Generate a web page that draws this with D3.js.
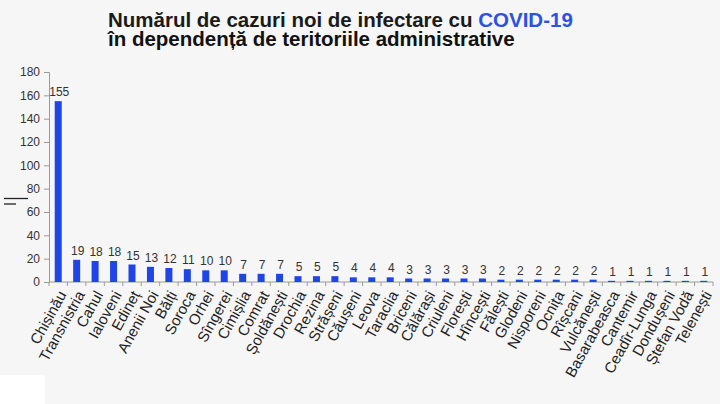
<!DOCTYPE html>
<html><head><meta charset="utf-8">
<script src="https://cdn.jsdelivr.net/npm/d3@7"></script>
<style>body{margin:0;background:#f6f6f6;} svg{display:block;}</style>
</head><body>
<script>
const categories = ["Chișinău","Transnistria","Cahul","Ialoveni","Edineț","Anenii Noi","Bălți","Soroca","Orhei","Sîngerei","Cimișlia","Comrat","Șoldănești","Drochia","Rezina","Strășeni","Căușeni","Leova","Taraclia","Briceni","Călărași","Criuleni","Florești","Hîncești","Fălești","Glodeni","Nisporeni","Ocnița","Rîșcani","Vulcănești","Basarabeasca","Cantemir","Ceadîr-Lunga","Dondușeni","Ștefan Vodă","Telenești"];
const values = [155,19,18,18,15,13,12,11,10,10,7,7,7,5,5,5,4,4,4,3,3,3,3,3,2,2,2,2,2,2,1,1,1,1,1,1];
const yTicks = [0,20,40,60,80,100,120,140,160,180];
const titleLine1 = "Numărul de cazuri noi de infectare cu ";
const titleHighlight = "COVID-19";
const titleLine2 = "în dependență de teritoriile administrative";

const W = 720, H = 404;
const svg = d3.select("body").append("svg").attr("width", W).attr("height", H);
svg.append("rect").attr("width", W).attr("height", H).attr("fill", "#f6f6f6");
svg.append("rect").attr("x", 0).attr("y", 375).attr("width", 45).attr("height", 29).attr("fill", "#ffffff");

const m = {left: 49, right: 7, top: 72, bottom: 122};
const x = d3.scaleBand().domain(categories).range([m.left, W - m.right]).paddingInner(0.62).paddingOuter(0.31);
const y = d3.scaleLinear().domain([0, 180]).range([H - m.bottom, m.top]);

const font = "Liberation Sans, Arial, sans-serif";

// title (one text element, two lines)
const t = svg.append("text").attr("font-family", font)
  .attr("font-size", 20.5).attr("font-weight", "bold").attr("fill", "#1a1a1a");
t.append("tspan").attr("x", 108).attr("y", 27).text(titleLine1);
t.append("tspan").attr("fill", "#2b52e4").text(titleHighlight);
t.append("tspan").attr("x", 108).attr("y", 46).attr("fill", "#111").text(titleLine2);

// y axis
const yAxis = svg.append("g").attr("transform", `translate(${m.left},0)`)
  .call(d3.axisLeft(y).tickValues(yTicks).tickSize(5).tickPadding(4));
yAxis.select(".domain").attr("stroke", "#9a9a9a");
yAxis.selectAll(".tick line").attr("stroke", "#9a9a9a");
yAxis.selectAll("text").attr("font-family", font).attr("font-size", 12).attr("fill", "#333");

// x axis
const xb = H - m.bottom;
svg.append("line").attr("x1", m.left).attr("x2", W - m.right).attr("y1", xb).attr("y2", xb).attr("stroke", "#9a9a9a");
const step = x.step();
const bounds = d3.range(categories.length + 1).map(i => x(categories[0]) - x.paddingOuter() * step + i * step);
svg.append("g").selectAll("line").data(bounds).join("line")
  .attr("x1", d => d).attr("x2", d => d).attr("y1", xb).attr("y2", xb + 4).attr("stroke", "#9a9a9a");

// bars
svg.append("g").selectAll("rect").data(values).join("rect")
  .attr("x", (d, i) => x(categories[i]))
  .attr("y", d => y(d))
  .attr("width", x.bandwidth())
  .attr("height", d => y(0) - y(d))
  .attr("fill", "#1f45e6");

// value labels
svg.append("g").selectAll("text").data(values).join("text")
  .attr("x", (d, i) => x(categories[i]) + x.bandwidth() / 2 + 1)
  .attr("y", d => y(d) - 5)
  .attr("text-anchor", "middle").attr("font-family", font).attr("font-size", 12).attr("fill", "#333")
  .text(d => d);

// category labels
svg.append("g").selectAll("text").data(categories).join("text")
  .attr("transform", d => `translate(${x(d) + x.bandwidth() / 2 + 4},${xb + 10}) rotate(-61)`)
  .attr("text-anchor", "end").attr("dy", "0.35em")
  .attr("font-family", font).attr("font-size", 15).attr("fill", "#222")
  .text(d => d);

// y axis title glyph
svg.append("line").attr("x1", 4).attr("x2", 28).attr("y1", 198.5).attr("y2", 198.5).attr("stroke", "#222").attr("stroke-width", 1.3);
svg.append("line").attr("x1", 4).attr("x2", 16).attr("y1", 204).attr("y2", 204).attr("stroke", "#222").attr("stroke-width", 1.3);
</script>
</body></html>
